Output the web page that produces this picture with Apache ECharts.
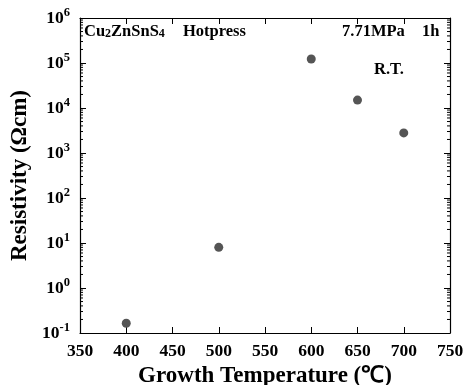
<!DOCTYPE html>
<html><head><meta charset="utf-8">
<script src="https://cdn.jsdelivr.net/npm/echarts@6/dist/echarts.min.js"></script>
<style>html,body{margin:0;padding:0;background:#fff}#c{width:469px;height:385px}</style>
</head><body><div id="c"></div>
<script>
var temperatures = [400, 500, 600, 650, 700];
var resistivity = [0.165, 8.0, 1.23e5, 1.5e4, 2.8e3];
var xTicks = [350, 400, 450, 500, 550, 600, 650, 700, 750];
var yDecades = [-1, 0, 1, 2, 3, 4, 5, 6];

var FONT = '"Liberation Serif", "Times New Roman", serif';
var minorVals = [];
for (var d = -1; d < 6; d++) for (var m = 2; m <= 9; m++) minorVals.push([m * Math.pow(10, d)]);

var chart = echarts.init(document.getElementById('c'));
var axisLine = {show: true, lineStyle: {color: '#000', width: 1.2}};
chart.setOption({
  animation: false,
  grid: {left: 80, right: 19, top: 18, bottom: 52, containLabel: false, outerBoundsMode: 'none'},
  xAxis: [{
    type: 'value', min: xTicks[0], max: xTicks[xTicks.length - 1], interval: 50,
    axisLine: axisLine, axisTick: {inside: true, length: 6, lineStyle: {color: '#000'}},
    splitLine: {show: false},
    axisLabel: {color: '#000', fontFamily: FONT, fontWeight: 'bold', fontSize: 17.5, margin: 9},
    name: 'Growth Temperature (℃)', nameLocation: 'middle', nameGap: 25,
    nameTextStyle: {color: '#000', fontFamily: FONT, fontWeight: 'bold', fontSize: 23}
  }, {
    type: 'value', position: 'top', min: xTicks[0], max: xTicks[xTicks.length - 1], interval: 50,
    axisLine: axisLine, axisTick: {inside: true, length: 6, lineStyle: {color: '#000'}},
    splitLine: {show: false}, axisLabel: {show: false}
  }],
  yAxis: [{
    type: 'log', logBase: 10, min: Math.pow(10, yDecades[0]), max: Math.pow(10, yDecades[yDecades.length - 1]), interval: 1,
    axisLine: axisLine, axisTick: {inside: true, length: 6, lineStyle: {color: '#000'}},
    splitLine: {show: false},
    axisLabel: {
      margin: 10,
      formatter: function (v) { return '{b|10}{s|' + Math.round(Math.log10(v)) + '}'; },
      rich: {
        b: {color: '#000', fontFamily: FONT, fontWeight: 'bold', fontSize: 17.5},
        s: {color: '#000', fontFamily: FONT, fontWeight: 'bold', fontSize: 12.5, padding: [0, 0, 11, 0]}
      }
    },
    name: 'Resistivity (Ωcm)', nameLocation: 'middle', nameGap: 48, nameRotate: 90,
    nameTextStyle: {color: '#000', fontFamily: FONT, fontWeight: 'bold', fontSize: 23}
  }, {
    type: 'log', logBase: 10, position: 'right', min: Math.pow(10, yDecades[0]), max: Math.pow(10, yDecades[yDecades.length - 1]), interval: 1,
    axisLine: axisLine, axisTick: {inside: true, length: 6, lineStyle: {color: '#000'}},
    splitLine: {show: false}, axisLabel: {show: false}
  }],
  series: [{
    type: 'custom', xAxisIndex: 0, yAxisIndex: 0, silent: true, clip: false,
    data: minorVals,
    renderItem: function (params, api) {
      var v = api.value(0);
      var pl = api.coord([xTicks[0], v]);
      var pr = api.coord([xTicks[xTicks.length - 1], v]);
      return {type: 'group', children: [
        {type: 'line', shape: {x1: pl[0], y1: pl[1], x2: pl[0] + 3, y2: pl[1]}, style: {stroke: '#000', lineWidth: 1}},
        {type: 'line', shape: {x1: pr[0], y1: pr[1], x2: pr[0] - 3, y2: pr[1]}, style: {stroke: '#000', lineWidth: 1}}
      ]};
    },
    encode: {y: 0}
  }, {
    type: 'scatter', xAxisIndex: 0, yAxisIndex: 0,
    symbolSize: 9,
    itemStyle: {color: '#555', opacity: 1},
    data: temperatures.map(function (t, i) { return [t, resistivity[i]]; })
  }],
  graphic: [
    {type: 'text', left: 84, top: 23, style: {
      text: '{a|Cu}{s|2}{a|ZnSnS}{s|4}', rich: {
        a: {fill: '#000', fontFamily: FONT, fontWeight: 'bold', fontSize: 16.5},
        s: {fill: '#000', fontFamily: FONT, fontWeight: 'bold', fontSize: 12, padding: [4, 0, 0, 0]}
      }}},
    {type: 'text', left: 183, top: 23, style: {text: 'Hotpress', fill: '#000', font: 'bold 16.5px ' + FONT}},
    {type: 'text', left: 342, top: 23, style: {text: '7.71MPa', fill: '#000', font: 'bold 16.5px ' + FONT}},
    {type: 'text', left: 422, top: 23, style: {text: '1h', fill: '#000', font: 'bold 16.5px ' + FONT}},
    {type: 'text', left: 374, top: 61, style: {text: 'R.T.', fill: '#000', font: 'bold 16.5px ' + FONT}}
  ]
});
</script></body></html>
